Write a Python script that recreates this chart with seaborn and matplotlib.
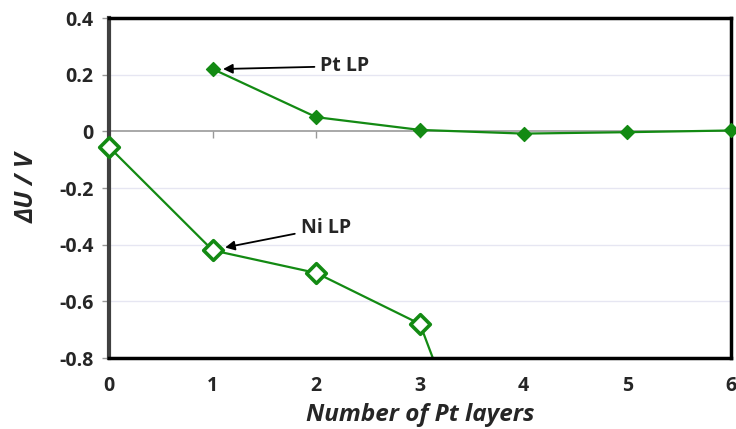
import matplotlib
matplotlib.use("Agg")
import matplotlib.pyplot as plt
import seaborn as sns
import pandas as pd

# Potential shift vs. number of Pt layers
pt_layers = [1, 2, 3, 4, 5, 6]
pt_lp = [0.22, 0.05, 0.005, -0.008, -0.003, 0.003]

ni_layers = [0, 1, 2, 3, 4]
ni_lp = [-0.055, -0.42, -0.50, -0.68, -1.65]

x_ticks = [0, 1, 2, 3, 4, 5, 6]
y_ticks = [-0.8, -0.6, -0.4, -0.2, 0, 0.2, 0.4]
y_ticklabels = ["-0.8", "-0.6", "-0.4", "-0.2", "0", "0.2", "0.4"]

sns.set_style("white")
plt.rcParams["font.family"] = ["Open Sans", "DejaVu Sans"]

green = "#138a13"
y_min, y_max = -0.8, 0.4

fig = plt.figure(figsize=(7.36, 4.29), dpi=100)
ax = fig.add_axes([109 / 736, 1 - 358 / 429, (731 - 109) / 736, (358 - 18) / 429])

df_pt = pd.DataFrame({"n": pt_layers, "du": pt_lp})
df_ni = pd.DataFrame({"n": ni_layers, "du": ni_lp})

# connecting lines (clipped to the plot area)
sns.lineplot(data=df_pt, x="n", y="du", ax=ax, color=green, lw=1.6)
sns.lineplot(data=df_ni, x="n", y="du", ax=ax, color=green, lw=1.6)

# markers drawn unclipped so the ones on the frame stay whole
pt_vis = df_pt[(df_pt.du >= y_min) & (df_pt.du <= y_max)]
ni_vis = df_ni[(df_ni.du >= y_min) & (df_ni.du <= y_max)]
sns.scatterplot(data=pt_vis, x="n", y="du", ax=ax, marker="D", s=50,
                color=green, edgecolor=green, linewidth=1, clip_on=False, zorder=5)
sns.scatterplot(data=ni_vis, x="n", y="du", ax=ax, marker="D", s=100,
                facecolor="white", edgecolor=green, linewidth=2.6, clip_on=False, zorder=5)

ax.set_xlim(0, 6)
ax.set_ylim(y_min, y_max)
ax.set_xticks(x_ticks)
ax.set_yticks(y_ticks)
ax.set_yticklabels(y_ticklabels)

# light horizontal grid
for y in y_ticks:
    if y not in (0, 0.4, -0.8):
        ax.axhline(y, color="#e6e6f2", lw=1, zorder=0)

# zero line carrying the x tick marks
zero_axis = ax.secondary_xaxis(-y_min / (y_max - y_min))
zero_axis.set_xticks(x_ticks)
zero_axis.set_xticklabels([])
zero_axis.xaxis.set_ticks_position("bottom")
zero_axis.tick_params(direction="out", length=5, color="#999999", width=1)
for sp in ["top", "bottom"]:
    zero_axis.spines[sp].set_color("#9a9a9a")
    zero_axis.spines[sp].set_linewidth(1.2)

for side in ["top", "right", "bottom"]:
    ax.spines[side].set_color("black")
    ax.spines[side].set_linewidth(2.5)
ax.spines["left"].set_color("#404040")
ax.spines["left"].set_linewidth(3)

ax.tick_params(axis="x", length=0, pad=13, labelsize=14)
ax.tick_params(axis="y", direction="out", length=5, color="#999999", width=1,
               pad=6, labelsize=14, left=True)
for lab in ax.get_xticklabels() + ax.get_yticklabels():
    lab.set_fontweight("bold")

ax.set_xlabel("Number of Pt layers", fontsize=17.5, fontweight="bold", style="italic", labelpad=5)
ax.set_ylabel("ΔU / V", fontsize=18, fontweight="bold", style="italic", labelpad=14)

ax.annotate("Pt LP", xy=(1.1, 0.22), xytext=(2.04, 0.23),
            fontsize=14, fontweight="bold", va="center", ha="left",
            arrowprops=dict(arrowstyle="-|>", color="black", lw=1.3, mutation_scale=14,
                            shrinkA=2, shrinkB=0))
ax.annotate("Ni LP", xy=(1.12, -0.41), xytext=(1.85, -0.34),
            fontsize=14, fontweight="bold", va="center", ha="left",
            arrowprops=dict(arrowstyle="-|>", color="black", lw=1.3, mutation_scale=14,
                            shrinkA=2, shrinkB=0))

fig.savefig("out.png", dpi=100)
